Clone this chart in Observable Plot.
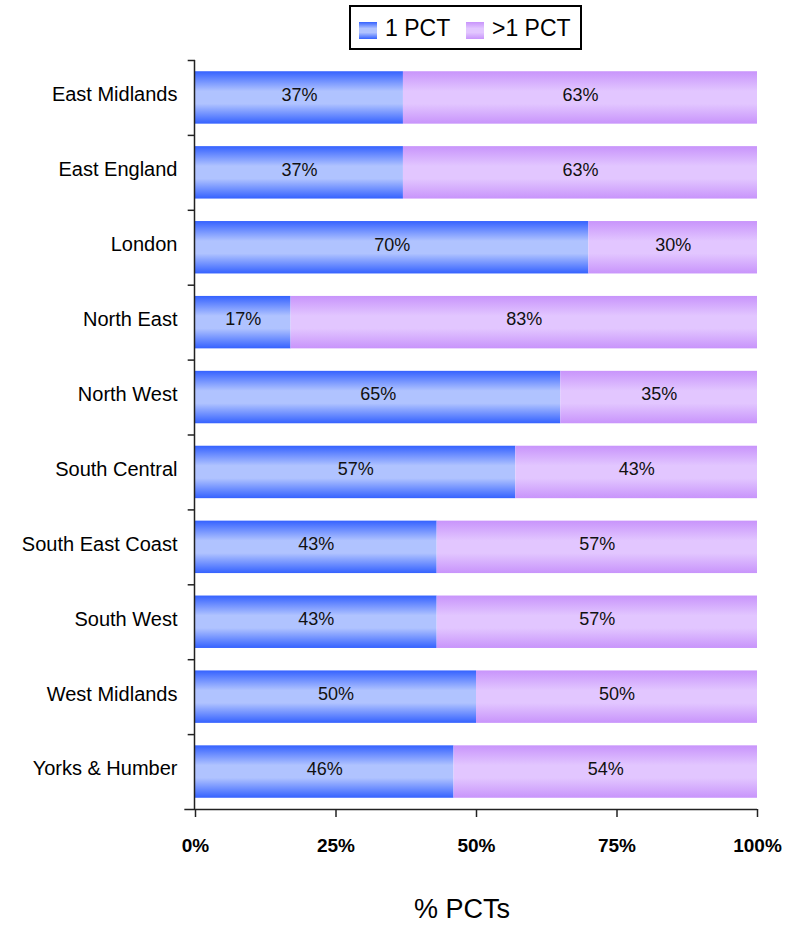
<!DOCTYPE html>
<html>
<head>
<meta charset="utf-8">
<script src="https://cdn.jsdelivr.net/npm/d3@7"></script>
<script src="https://cdn.jsdelivr.net/npm/@observablehq/plot@0.6"></script>
<style>
  body { margin: 0; background: #fff; font-family: "Liberation Sans", Arial, sans-serif; }
  #wrap { position: relative; width: 806px; height: 930px; }
  #legendBox { position: absolute; left: 349px; top: 5px; width: 233px; height: 45px; box-sizing: border-box; border: 2px solid #000; white-space: nowrap; font-size: 23px; color: #000; }
  .sw { position: absolute; top: 15px; width: 18px; height: 17px; }
  .lt { position: absolute; top: 8px; line-height: 26px; }
  #chart { position: absolute; left: 0; top: 56px; }
  #chart svg { display: block; }
  #title { position: absolute; left: 312px; width: 300px; top: 894px; text-align: center; font-size: 27px; color: #000; }
</style>
</head>
<body>
<div id="wrap">
  <div id="legendBox"></div>
  <div id="chart"></div>
  <div id="title">% PCTs</div>
</div>
<script>
const regions = ["East Midlands", "East England", "London", "North East", "North West", "South Central", "South East Coast", "South West", "West Midlands", "Yorks & Humber"];
const series = ["1 PCT", ">1 PCT"];
const onePct = [37, 37, 70, 17, 65, 57, 43, 43, 50, 46];
const morePct = [63, 63, 30, 83, 35, 43, 57, 57, 50, 54];
const xTicks = [0, 25, 50, 75, 100];

const gradIds = ["gBlue", "gPurple"];
const gradStops = [
  [["0%", "#3562ff"], ["38%", "#b0c3ff"], ["62%", "#b0c3ff"], ["100%", "#3562ff"]],
  [["0%", "#c894fb"], ["38%", "#e2c6ff"], ["62%", "#e2c6ff"], ["100%", "#c894fb"]]
];

const data = [];
regions.forEach((r, i) => {
  data.push({region: r, series: series[0], value: onePct[i]});
  data.push({region: r, series: series[1], value: morePct[i]});
});

// legend
const box = document.getElementById("legendBox");
const swLeft = [8, 115];
series.forEach((s, i) => {
  const sw = document.createElement("span");
  sw.className = "sw";
  sw.style.left = swLeft[i] + "px";
  sw.style.background = `linear-gradient(to bottom, ${gradStops[i].map(([o, c]) => c + " " + o).join(", ")})`;
  const t = document.createElement("span");
  t.className = "lt";
  t.style.left = (swLeft[i] + 26) + "px";
  t.textContent = s;
  box.appendChild(sw); box.appendChild(t);
});

const half = 74.9 / 2;
const svg = Plot.plot({
  width: 806,
  height: 820,
  marginTop: 4,
  marginBottom: 67,
  marginLeft: 195,
  marginRight: 49,
  style: {fontFamily: '"Liberation Sans", Arial, sans-serif', fontSize: "18px", color: "#000", background: "#fff"},
  x: {domain: [0, 100]},
  y: {domain: regions, paddingInner: 0.3, paddingOuter: 0.15, round: false},
  color: {type: "ordinal", domain: series, range: gradIds.map(id => `url(#${id})`)},
  marks: [
    Plot.barX(data, {x: "value", y: "region", fill: "series", z: "series"}),
    Plot.text(data, Plot.stackX({x: "value", y: "region", z: "series", text: d => d.value + "%", fontSize: 18, fill: "#111", dy: -3})),
    Plot.ruleX([0], {stroke: "#222", strokeWidth: 1.5, dx: -1}),
    Plot.ruleY(regions, {y: d => d, dy: -half, x1: -1.3, x2: 0, stroke: "#222", strokeWidth: 1.5}),
    Plot.ruleY(regions.slice(-1), {y: d => d, dy: half, x1: -1.9, x2: 100, stroke: "#222", strokeWidth: 1.5}),
    Plot.axisY({tickSize: 0, tickPadding: 18, fontSize: 20, label: null, dy: -3}),
    Plot.axisX({ticks: xTicks, tickFormat: d => d + "%", tickSize: 8, tickPadding: 21, fontSize: 19, fontWeight: "bold", label: null, stroke: "#222", strokeWidth: 1.5})
  ]
});

const defs = d3.select(svg).insert("defs", ":first-child");
gradIds.forEach((id, i) => {
  const g = defs.append("linearGradient").attr("id", id).attr("x1", 0).attr("y1", 0).attr("x2", 0).attr("y2", 1);
  gradStops[i].forEach(([o, c]) => g.append("stop").attr("offset", o).attr("stop-color", c));
});

document.getElementById("chart").appendChild(svg);
</script>
</body>
</html>
